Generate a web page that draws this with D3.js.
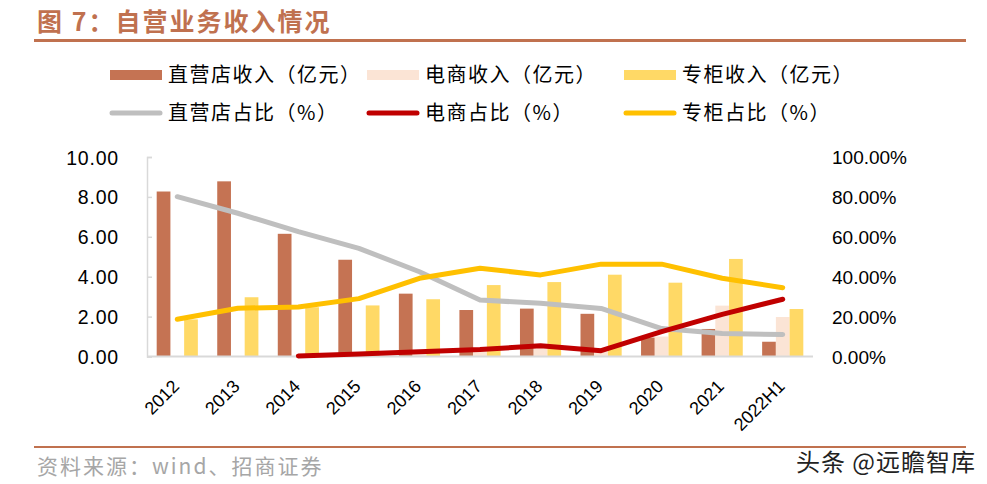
<!DOCTYPE html>
<html><head><meta charset="utf-8">
<script src="https://cdn.jsdelivr.net/npm/d3@7/dist/d3.min.js"></script>
<style>
html,body{margin:0;padding:0;background:#fff;}
svg{display:block;}
</style></head>
<body>
<svg id="chart" width="987" height="484"></svg>
<script>
// ---- data ----
const categories = ["2012","2013","2014","2015","2016","2017","2018","2019","2020","2021","2022H1"];
const directRevenue  = [8.27, 8.78, 6.15, 4.85, 3.15, 2.33, 2.40, 2.14, 0.95, 1.38, 0.74];
const ecomRevenue    = [0, 0, 0.03, 0.11, 0.18, 0.30, 0.49, 0.26, 1.00, 2.55, 1.98];
const counterRevenue = [1.86, 2.97, 2.47, 2.56, 2.87, 3.58, 3.73, 4.10, 3.70, 4.89, 2.38];
const directShare  = [80.1, 71.8, 62.6, 54.2, 42.5, 28.3, 26.7, 24.1, 14.0, 11.5, 11.0];
const ecomShare    = [null, null, 0.3, 1.2, 2.4, 3.5, 5.4, 2.9, 12.5, 21.1, 28.7];
const counterShare = [18.7, 24.2, 24.8, 29.0, 39.2, 44.2, 40.9, 46.3, 46.3, 39.2, 34.5];
const leftTicks  = [0, 2, 4, 6, 8, 10];
const rightTicks = [0, 20, 40, 60, 80, 100];
const barSeries = [
  {name:"直营店收入（亿元）", values: directRevenue,  color:"#C57353"},
  {name:"电商收入（亿元）",   values: ecomRevenue,    color:"#FBE4D5"},
  {name:"专柜收入（亿元）",   values: counterRevenue, color:"#FFD966"}
];
const lineSeries = [
  {name:"直营店占比（%）", values: directShare,  color:"#BFBFBF"},
  {name:"电商占比（%）",   values: ecomShare,    color:"#C00000"},
  {name:"专柜占比（%）",   values: counterShare, color:"#FFC000"}
];

// ---- layout ----
const svg = d3.select("#chart");
const plot = {left:147, right:813, top:157, bottom:356.5};
const titleColor = "#C0714F";
const latin = "'Liberation Sans', Arial, sans-serif";
const cjk = "'Noto Sans CJK SC', sans-serif";

// title
svg.append("text").attr("x",37).attr("y",31)
  .attr("fill",titleColor).attr("font-family",cjk).attr("font-weight","bold")
  .attr("font-size",25).attr("letter-spacing",2).text("图 7：自营业务收入情况");
svg.append("rect").attr("x",34).attr("y",39).attr("width",932).attr("height",3).attr("fill",titleColor);

// scales
const x0 = d3.scaleBand().domain(categories).range([plot.left, plot.right])
  .paddingInner(0.32).paddingOuter(0.16);
const x1 = d3.scaleBand().domain(d3.range(barSeries.length)).range([0, x0.bandwidth()]).padding(0);
const yL = d3.scaleLinear().domain([0,10]).range([plot.bottom, plot.top]);
const yR = d3.scaleLinear().domain([0,100]).range([plot.bottom, plot.top]);

// bars
barSeries.forEach((s, si) => {
  svg.append("g").selectAll("rect").data(s.values).join("rect")
    .attr("x",(d,i)=>x0(categories[i]) + x1(si))
    .attr("width",x1.bandwidth())
    .attr("y",d=>yL(d))
    .attr("height",d=>yL(0)-yL(d))
    .attr("fill",s.color);
});

// axes
const axL = d3.axisLeft(yL).tickValues(leftTicks).tickSize(-5).tickPadding(34)
  .tickFormat(d3.format(".2f"));
const gL = svg.append("g").attr("transform",`translate(${plot.left},0)`).call(axL);
gL.select(".domain").attr("stroke","#D9D9D9").attr("stroke-width",1.5);
gL.selectAll(".tick line").attr("stroke","#D9D9D9").attr("stroke-width",1.5);
gL.selectAll(".tick text").attr("font-family",latin).attr("font-size",19.5).attr("fill","#000")
  .attr("letter-spacing",0.8).attr("x",-28).attr("dy","0.36em");

const axR = d3.axisRight(yR).tickValues(rightTicks).tickSize(0).tickPadding(19)
  .tickFormat(d=>d3.format(".2f")(d)+"%");
const gR = svg.append("g").attr("transform",`translate(${plot.right},0)`).call(axR);
gR.select(".domain").remove();
gR.selectAll(".tick text").attr("font-family",latin).attr("font-size",19).attr("fill","#000")
  .attr("dy","0.36em");

const axB = d3.axisBottom(x0).tickSize(0).tickPadding(0);
const gB = svg.append("g").attr("transform",`translate(0,${plot.bottom})`).call(axB);
gB.select(".domain").attr("stroke","#D9D9D9").attr("stroke-width",2)
  .attr("d",`M${plot.left},0H${plot.right}`);
gB.selectAll(".tick text").attr("font-family",latin).attr("font-size",18).attr("fill","#000")
  .attr("text-anchor","end").attr("dy",0).attr("y",0)
  .attr("transform","translate(3,31) rotate(-45)");

// lines
lineSeries.forEach(s => {
  const pts = s.values.map((v,i)=>({c:categories[i], v}));
  const gen = d3.line().defined(d=>d.v!=null)
    .x(d=>x0(d.c)+x0.bandwidth()/2).y(d=>yR(d.v));
  svg.append("path").datum(pts).attr("d", gen)
    .attr("fill","none").attr("stroke",s.color).attr("stroke-width",5)
    .attr("stroke-linecap","round").attr("stroke-linejoin","round");
});

// legend
const legX = [110, 367, 624];
const legendRow = (items, y, isLine) => {
  items.forEach((s, i) => {
    const g = svg.append("g");
    if (isLine) {
      g.append("line").attr("x1",legX[i]+2).attr("x2",legX[i]+50).attr("y1",y).attr("y2",y)
        .attr("stroke",s.color).attr("stroke-width",5).attr("stroke-linecap","round");
    } else {
      g.append("rect").attr("x",legX[i]).attr("y",y-5).attr("width",52).attr("height",10).attr("fill",s.color);
    }
    g.append("text").attr("x",legX[i]+58).attr("y",y).attr("dy","0.36em")
      .attr("font-family",cjk).attr("font-size",20).attr("letter-spacing",1.5)
      .attr("fill","#000").text(s.name);
  });
};
legendRow(barSeries, 75, false);
legendRow(lineSeries, 113, true);

// footer
svg.append("rect").attr("x",34).attr("y",446).attr("width",932).attr("height",2).attr("fill",titleColor);
svg.append("text").attr("x",37).attr("y",474).attr("font-family",cjk).attr("font-size",21)
  .attr("letter-spacing",2).attr("fill","#A6A6A6").text("资料来源：wind、招商证券");
svg.append("text").attr("x",976).attr("y",471).attr("text-anchor","end")
  .attr("font-family",cjk).attr("font-size",24).attr("letter-spacing",1)
  .attr("fill","#222")
  .attr("stroke","#fff").attr("stroke-width",3).attr("paint-order","stroke")
  .text("头条 @远瞻智库");
</script>
</body></html>
